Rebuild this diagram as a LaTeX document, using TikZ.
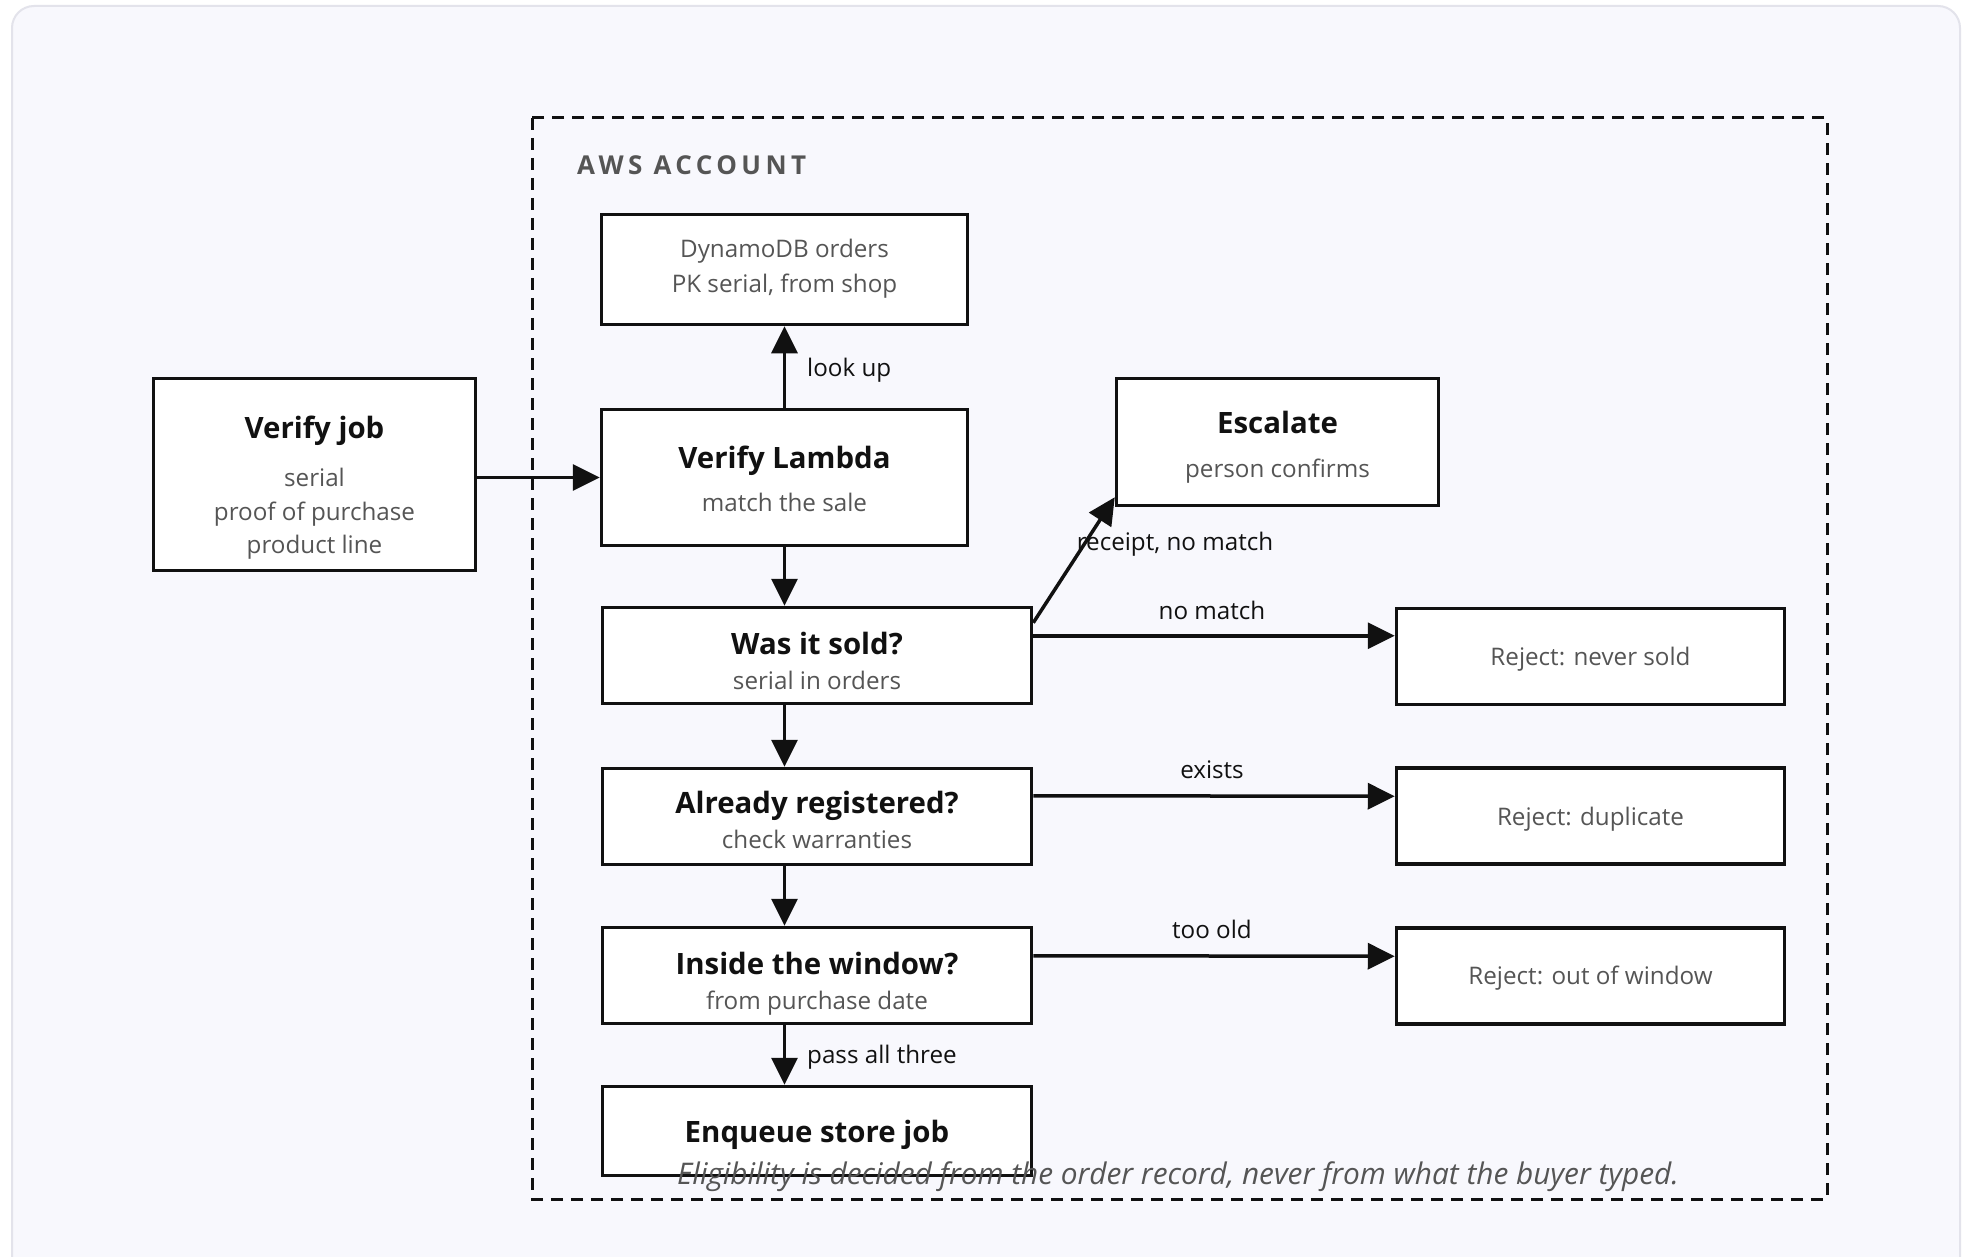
\documentclass[tikz,border=0pt]{standalone}
\usepackage{fontspec}
\setmainfont{Open Sans}
\usetikzlibrary{arrows.meta,calc}
\definecolor{bgc}{HTML}{F8F8FD}
\definecolor{bgline}{HTML}{E3E3EB}
\definecolor{ink}{HTML}{111111}
\definecolor{subc}{HTML}{555555}
\tikzset{
  box/.style={draw=ink, line width=3.5pt, fill=white, inner sep=0pt},
  ttl/.style={anchor=base, inner sep=0pt, text=ink, font=\fontsize{29.4}{34}\selectfont\bfseries},
  stx/.style={anchor=base, inner sep=0pt, text=subc, font=\fontsize{24.2}{29}\selectfont},
  lbl/.style={anchor=base, inner sep=0pt, text=ink, font=\fontsize{24.2}{28}\selectfont},
  arr/.style={draw=ink, line width=3.5pt, -{Triangle[length=27pt,width=26pt]}},
}
\begin{document}
\begin{tikzpicture}[x=1pt,y=-1pt]
\useasboundingbox (0,0) rectangle (1968,1257);
\fill[white] (0,0) rectangle (1968,1257);
\draw[fill=bgc, draw=bgline, line width=2pt, rounded corners=22pt] (12,6) rectangle (1960,1290);
% container
\draw[ink, line width=3pt, dash pattern=on 12pt off 8pt] (532,118) rectangle (1827,1199);
\node[anchor=base west, inner sep=0pt, text=subc, font=\fontsize{26}{30}\selectfont\bfseries\addfontfeatures{LetterSpace=17}] (aws) at (577,175) {AWS ACCOUNT};

% boxes
\node[box, minimum width=322pt, minimum height=192pt] (vj) at (314.5,474.5) {};
\node[box, minimum width=366pt, minimum height=136pt] (lam) at (784.5,477.5) {};
\node[box, minimum width=366pt, minimum height=110pt] (ddb) at (784.5,269.5) {};
\node[box, minimum width=322pt, minimum height=127pt] (esc) at (1277.5,442) {};
\node[box, minimum width=429pt, minimum height=96pt] (sold) at (817,655.5) {};
\node[box, minimum width=429pt, minimum height=96pt] (reg) at (817,816.5) {};
\node[box, minimum width=429pt, minimum height=96pt] (win) at (817,975.5) {};
\node[box, minimum width=429pt, minimum height=89pt] (enq) at (817,1131) {};
\node[box, minimum width=388pt, minimum height=96pt] (rj1) at (1590.5,656.5) {};
\node[box, minimum width=388pt, minimum height=96pt] (rj2) at (1590.5,816) {};
\node[box, minimum width=388pt, minimum height=96pt] (rj3) at (1590.5,976) {};

% texts
\node[ttl] (vjt) at (314.5,438) {Verify job};
\node[stx] (vjs1) at (314.5,486) {serial};
\node[stx] (vjs2) at (314.5,520) {proof of purchase};
\node[stx] (vjs3) at (314.5,553) {product line};
\node[stx] (ddb1) at (784.5,258) {DynamoDB orders};
\node[stx] (ddb2) at (784.5,293) {PK serial, from shop};
\node[ttl] (lamt) at (784.5,468) {Verify Lambda};
\node[stx] (lams) at (784.5,511) {match the sale};
\node[ttl] (esct) at (1277.5,433) {Escalate};
\node[stx] (escs) at (1277.5,477) {person confirms};
\node[ttl] (soldt) at (817,654) {Was it sold?};
\node[stx] (solds) at (817,689) {serial in orders};
\node[ttl] (regt) at (817,813) {Already registered?};
\node[stx] (regs) at (817,848) {check warranties};
\node[ttl] (wint) at (817,974) {Inside the window?};
\node[stx] (wins) at (817,1009) {from purchase date};
\node[ttl] (enqt) at (817,1142) {Enqueue store job};
\node[stx] (rj1t) at (1590.5,665) {Reject: never sold};
\node[stx] (rj2t) at (1590.5,825) {Reject: duplicate};
\node[stx] (rj3t) at (1590.5,984) {Reject: out of window};

% connectors
\draw[arr] (vj.east |- lam.west) -- (lam.west);
\draw[arr] (lam.north) -- (ddb.south);
\draw[arr] (lam.south) -- (lam.south |- sold.north);
\draw[arr] (lam.south |- sold.south) -- (lam.south |- reg.north);
\draw[arr] (lam.south |- reg.south) -- (lam.south |- win.north);
\draw[arr] (lam.south |- win.south) -- (lam.south |- enq.north);
\draw[arr] ($(sold.north east)+(0,17)$) -- ($(esc.south west)+(0,-10)$);
\draw[arr] ($(sold.north east)+(0,30)$) -- ($(rj1.north west)+(0,29)$);
\draw[arr] ($(reg.north east)+(0,29)$) -- ($(rj2.north west)+(0,30)$);
\draw[arr] ($(win.north east)+(0,30)$) -- ($(rj3.north west)+(0,30)$);

% labels
\node[lbl, anchor=base west] (l1) at (807,376) {look up};
\node[lbl] (l2) at (1175,550) {receipt, no match};
\node[lbl] (l3) at (1212,619) {no match};
\node[lbl] (l4) at (1212,778) {exists};
\node[lbl] (l5) at (1212,938) {too old};
\node[lbl, anchor=base west] (l6) at (807,1063) {pass all three};

\node[anchor=base, inner sep=0pt, text=subc, font=\fontsize{29.8}{34}\selectfont\itshape] (cap) at (1178,1184) {Eligibility is decided from the order record, never from what the buyer typed.};
\end{tikzpicture}
\end{document}
